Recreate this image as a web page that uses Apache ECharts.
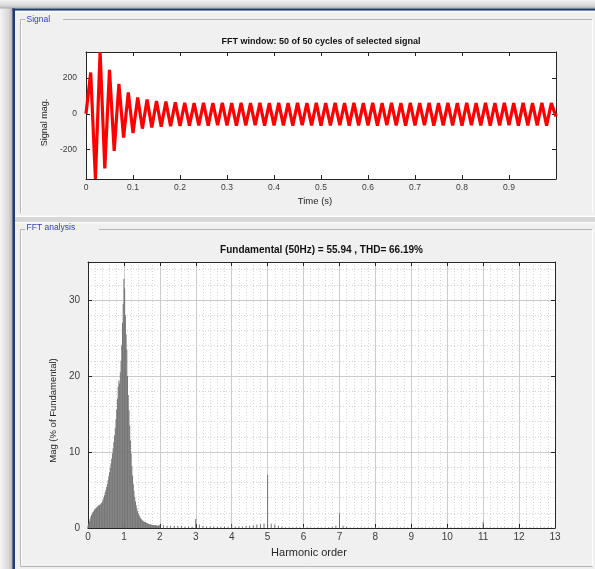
<!DOCTYPE html>
<html>
<head>
<meta charset="utf-8">
<script src="https://cdn.jsdelivr.net/npm/echarts@6/dist/echarts.min.js"></script>
<style>
html,body{margin:0;padding:0;background:#f0f0f0;}
#c{width:595px;height:569px;}
</style>
</head>
<body>
<div id="c"></div>
<script>
// ---------- DATA ----------
// Signal: extreme values per half-cycle, sampled every 0.01 s (t = 0 ... 1.0 s)
const sigStep = 0.01;
const sigVals = [
  0, 231, -365, 346, -306, 246, -208, 167, -133, 120,
  -108, 92, -83, 80, -76, 72, -72, 68, -70, 64,
  -68, 62, -66, 60, -65, 61, -66, 60, -64, 61,
  -65, 60, -66, 61, -65, 60, -64, 61, -66, 60,
  -65, 61, -65, 60, -66, 61, -64, 60, -65, 61,
  -66, 60, -65, 61, -64, 60, -66, 61, -65, 60,
  -65, 61, -66, 60, -64, 61, -65, 60, -66, 61,
  -65, 60, -64, 61, -66, 60, -65, 61, -65, 60,
  -66, 61, -64, 60, -65, 61, -66, 60, -65, 61,
  -64, 60, -66, 61, -65, 60, -65, 61, -66, 60,
  -15
];
const sigTicksX = [0, 0.1, 0.2, 0.3, 0.4, 0.5, 0.6, 0.7, 0.8, 0.9];
const sigTicksY = [-200, 0, 200];

// FFT spectrum, fine resolution (harmonic step 0.02) from 0 to 2.0
const fftFineStep = 0.02;
const fftFineMag = [
  0.3, 0.6, 0.9, 1.2, 1.5, 1.7, 1.9, 2.1, 2.2, 2.4,
  2.5, 2.6, 2.7, 2.8, 2.9, 3.0, 3.0, 3.1, 3.2, 3.3,
  3.5, 3.7, 4.0, 4.3, 4.7, 5.0, 5.4, 5.8, 6.3, 6.8,
  7.3, 7.9, 8.5, 9.1, 9.8, 10.5, 11.3, 12.2, 13.2, 14.3,
  15.6, 17.0, 18.6, 19.4, 19.0, 20.5, 22.0, 24.0, 27.0, 29.5,
  32.8, 31.5, 28.0, 25.5, 23.5, 20.0, 17.5, 15.5, 13.5, 11.5,
  9.8, 8.2, 6.9, 5.8, 4.9, 4.1, 3.5, 3.0, 2.6, 2.2,
  1.9, 1.7, 1.5, 1.3, 1.2, 1.1, 1.0, 0.9, 0.85, 0.8,
  0.75, 0.7, 0.65, 0.6, 0.55, 0.5, 0.5, 0.45, 0.45, 0.4,
  0.4, 0.4, 0.35, 0.35, 0.35, 0.35, 0.3, 0.3, 0.3, 0.35,
  0.4
];
// FFT spectrum, coarse part (harmonic step 0.1) from 2.1 to 13.0
const fftTailStart = 2.1;
const fftTailStep = 0.1;
const fftTailMag = [
  0.35, 0.3, 0.3, 0.25, 0.25, 0.25, 0.2, 0.2, 0.2, 1.2,
  0.45, 0.25, 0.2, 0.2, 0.2, 0.15, 0.15, 0.15, 0.15, 0.5,
  0.2, 0.2, 0.2, 0.25, 0.3, 0.35, 0.45, 0.5, 0.6, 7.0,
  0.55, 0.45, 0.3, 0.15, 0.1, 0.1, 0.1, 0.1, 0.1, 0.15,
  0.1, 0.08, 0.08, 0.08, 0.08, 0.08, 0.1, 0.15, 0.3, 1.9,
  0.3, 0.15, 0.08, 0.05, 0.05, 0.05, 0.05, 0.05, 0.05, 0.1,
  0.05, 0.05, 0.05, 0.05, 0.05, 0.05, 0.05, 0.05, 0.05, 0.1,
  0.05, 0.05, 0.05, 0.05, 0.05, 0.05, 0.05, 0.05, 0.05, 0.1,
  0.05, 0.05, 0.05, 0.05, 0.05, 0.05, 0.05, 0.05, 0.05, 0.8,
  0.05, 0.05, 0.05, 0.05, 0.05, 0.05, 0.05, 0.05, 0.05, 0.1,
  0.05, 0.05, 0.05, 0.05, 0.05, 0.05, 0.05, 0.05, 0.05, 0.05
];
const fftTicksX = [0,1,2,3,4,5,6,7,8,9,10,11,12,13];
const fftTicksY = [0, 10, 20, 30];

// ---------- BUILD ----------
const sigData = sigVals.map((v, i) => [+(i * sigStep).toFixed(2), v]);
const fftData = fftFineMag.map((v, i) => [+(i * fftFineStep).toFixed(2), v])
  .concat(fftTailMag.map((v, i) => [+(fftTailStart + i * fftTailStep).toFixed(1), v]));

const FONT = 'Liberation Sans, Arial, Helvetica, sans-serif';
const AX = '#262626';
const LBL = '#3c3c3c';

const chart = echarts.init(document.getElementById('c'), null, {renderer: 'canvas'});

function boxAxis(grid, pos, type, min, max, interval, opt) {
  return Object.assign({
    type: 'value', gridIndex: grid, position: pos, min: min, max: max, interval: interval,
    axisLine: {show: true, onZero: false, lineStyle: {color: AX, width: 1}},
    axisTick: {show: true, inside: true, length: 4, lineStyle: {color: AX}},
    axisLabel: {show: false},
    splitLine: {show: false},
    z: 2
  }, opt || {});
}

const blue = '#2f3fc4';
const graphics = [
  // left window shadow + border
  {type: 'rect', z: -10, shape: {x: 0, y: 0, width: 13, height: 569},
   style: {fill: new echarts.graphic.LinearGradient(0, 0, 1, 0, [{offset: 0, color: '#f4f4f4'}, {offset: 0.7, color: '#d6d6d6'}, {offset: 1, color: '#a8a8a8'}])}},
  {type: 'rect', z: -10, shape: {x: 0, y: 0, width: 595, height: 8.5},
   style: {fill: new echarts.graphic.LinearGradient(0, 0, 0, 1, [{offset: 0, color: '#f4f4f4'}, {offset: 0.7, color: '#d6d6d6'}, {offset: 1, color: '#a8a8a8'}])}},
  {type: 'rect', z: -9, shape: {x: 12.5, y: 8.5, width: 2.5, height: 561}, style: {fill: '#1c3b78'}},
  {type: 'rect', z: -9, shape: {x: 12.5, y: 8.5, width: 583, height: 2.2}, style: {fill: '#1c3b78'}},
  {type: 'rect', z: -9, shape: {x: 15, y: 10.7, width: 580, height: 2}, style: {fill: '#fafafa'}},
  // splitter between panels
  {type: 'rect', z: -9, shape: {x: 15, y: 215.5, width: 580, height: 1.5}, style: {fill: '#fbfbfb'}},
  {type: 'rect', z: -9, shape: {x: 15, y: 217, width: 580, height: 5}, style: {fill: '#d7d7d7'}},
  {type: 'rect', z: -9, shape: {x: 15, y: 222, width: 580, height: 1.2}, style: {fill: '#fbfbfb'}},
  // Signal group box
  {type: 'polyline', z: -8, shape: {points: [[25.5, 19.5], [20.5, 19.5], [20.5, 213]]}, style: {stroke: '#b4b4b4', lineWidth: 1, fill: null}},
  {type: 'line', z: -8, shape: {x1: 63, y1: 19.5, x2: 592.5, y2: 19.5}, style: {stroke: '#b4b4b4', lineWidth: 1}},
  {type: 'line', z: -8, shape: {x1: 21.5, y1: 20.5, x2: 21.5, y2: 213}, style: {stroke: '#ffffff', lineWidth: 1}},
  {type: 'line', z: -8, shape: {x1: 592.5, y1: 19.5, x2: 592.5, y2: 213}, style: {stroke: '#ffffff', lineWidth: 1}},
  {type: 'text', z: -8, style: {text: 'Signal', x: 26.5, y: 19.5, fill: blue, font: '8.5px ' + FONT, verticalAlign: 'middle', textAlign: 'left'}},
  // FFT analysis group box
  {type: 'polyline', z: -8, shape: {points: [[25, 229.5], [20.5, 229.5], [20.5, 566.5], [592.5, 566.5]]}, style: {stroke: '#b4b4b4', lineWidth: 1, fill: null}},
  {type: 'line', z: -8, shape: {x1: 99, y1: 229.5, x2: 592.5, y2: 229.5}, style: {stroke: '#b4b4b4', lineWidth: 1}},
  {type: 'line', z: -8, shape: {x1: 21.5, y1: 230.5, x2: 21.5, y2: 565.5}, style: {stroke: '#ffffff', lineWidth: 1}},
  {type: 'line', z: -8, shape: {x1: 592.5, y1: 229.5, x2: 592.5, y2: 566}, style: {stroke: '#ffffff', lineWidth: 1}},
  {type: 'text', z: -8, style: {text: 'FFT analysis', x: 26.5, y: 227.8, fill: blue, font: '8.5px ' + FONT, verticalAlign: 'middle', textAlign: 'left'}},
  // titles & axis names
  {type: 'text', style: {text: 'FFT window: 50 of 50 cycles of selected signal', x: 321, y: 42, fill: '#111', font: 'bold 9px ' + FONT, textAlign: 'center', verticalAlign: 'middle'}},
  {type: 'text', style: {text: 'Time (s)', x: 315, y: 201, fill: '#262626', font: '9.5px ' + FONT, textAlign: 'center', verticalAlign: 'middle'}},
  {type: 'text', rotation: Math.PI / 2, x: 44.5, y: 122.5, style: {text: 'Signal mag.', x: 0, y: 0, fill: '#262626', font: '9px ' + FONT, textAlign: 'center', verticalAlign: 'middle'}},
  {type: 'text', style: {text: 'Fundamental (50Hz) = 55.94 , THD= 66.19%', x: 321.5, y: 250.5, fill: '#111', font: 'bold 10px ' + FONT, textAlign: 'center', verticalAlign: 'middle'}},
  {type: 'text', style: {text: 'Harmonic order', x: 309, y: 553, fill: '#262626', font: '11px ' + FONT, textAlign: 'center', verticalAlign: 'middle'}},
  {type: 'text', rotation: Math.PI / 2, x: 53, y: 410.5, style: {text: 'Mag (% of Fundamental)', x: 0, y: 0, fill: '#262626', font: '9.5px ' + FONT, textAlign: 'center', verticalAlign: 'middle'}}
];

const minorLine = {show: true, lineStyle: {color: '#d6d6d6', width: 1, type: [1, 2]}};
const majorLine = {show: true, lineStyle: {color: '#cbcbcb', width: 1}};

const option = {
  animation: false,
  backgroundColor: 'transparent',
  textStyle: {fontFamily: FONT},
  graphic: graphics,
  grid: [
    {left: 86, top: 52, width: 470, height: 127, show: true, backgroundColor: '#ffffff', borderWidth: 0, z: -3},
    {left: 88, top: 262, width: 467, height: 266, show: true, backgroundColor: '#ffffff', borderWidth: 0, z: -3}
  ],
  xAxis: [
    boxAxis(0, 'bottom', 'value', 0, 1, 0.1, {
      axisLabel: {show: true, fontSize: 8.5, color: LBL, margin: 4, fontFamily: FONT,
        customValues: sigTicksX, formatter: v => v === 0 ? '0' : v.toFixed(1)},
      axisTick: {show: true, inside: true, length: 4, lineStyle: {color: AX}, customValues: sigTicksX.concat([1])}
    }),
    boxAxis(0, 'top', 'value', 0, 1, 0.1),
    boxAxis(1, 'bottom', 'value', 0, 13, 1, {
      axisLabel: {show: true, fontSize: 10, color: LBL, margin: 4.5, fontFamily: FONT, customValues: fftTicksX},
      splitLine: majorLine
    }),
    boxAxis(1, 'top', 'value', 0, 13, 1),
    // minor dotted grid (x)
    {type: 'value', gridIndex: 1, min: 0, max: 13, interval: 0.2, show: true, z: -2,
     axisLine: {show: false}, axisTick: {show: false}, axisLabel: {show: false},
     splitLine: minorLine}
  ],
  yAxis: [
    boxAxis(0, 'left', 'value', -365, 346, null, {
      interval: undefined,
      axisLabel: {show: true, fontSize: 8.5, color: LBL, margin: 9, fontFamily: FONT, customValues: sigTicksY},
      axisTick: {show: true, inside: true, length: 4, lineStyle: {color: AX}, customValues: sigTicksY}
    }),
    boxAxis(0, 'right', 'value', -365, 346, null, {
      interval: undefined,
      axisTick: {show: true, inside: true, length: 4, lineStyle: {color: AX}, customValues: sigTicksY}
    }),
    boxAxis(1, 'left', 'value', 0, 35, 10, {
      axisLabel: {show: true, fontSize: 10, color: LBL, margin: 8, fontFamily: FONT, customValues: fftTicksY},
      axisTick: {show: true, inside: true, length: 4, lineStyle: {color: AX}, customValues: fftTicksY},
      splitLine: majorLine
    }),
    boxAxis(1, 'right', 'value', 0, 35, 10, {
      axisTick: {show: true, inside: true, length: 4, lineStyle: {color: AX}, customValues: fftTicksY}
    }),
    // minor dotted grid (y)
    {type: 'value', gridIndex: 1, min: 0, max: 35, interval: 2, show: true, z: -2,
     axisLine: {show: false}, axisTick: {show: false}, axisLabel: {show: false},
     splitLine: minorLine}
  ],
  series: [
    {
      type: 'line', xAxisIndex: 0, yAxisIndex: 0, data: sigData,
      showSymbol: false, symbol: 'none', clip: true,
      lineStyle: {color: '#ff0000', width: 3.2}, z: 3
    },
    {
      type: 'bar', xAxisIndex: 2, yAxisIndex: 2, data: fftData,
      barWidth: 1, itemStyle: {color: '#747474'}, z: 3
    }
  ]
};
chart.setOption(option);
</script>
</body>
</html>
